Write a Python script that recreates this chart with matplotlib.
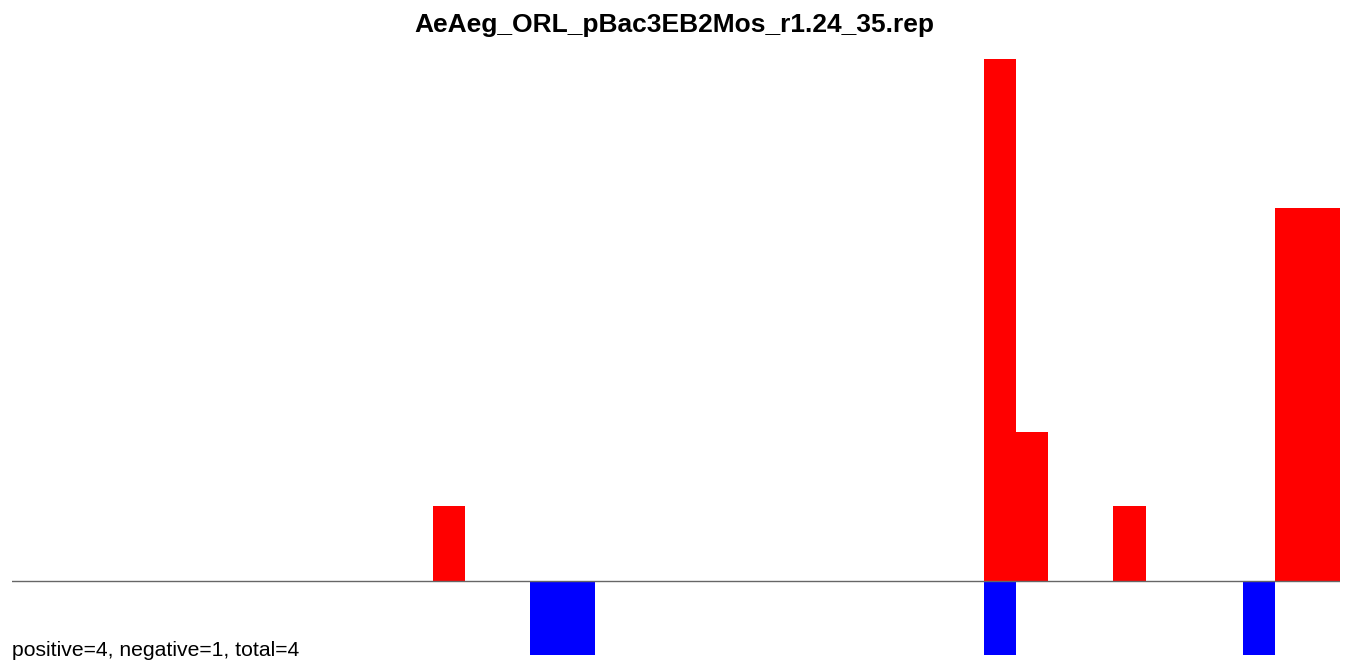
import numpy as np
import matplotlib
matplotlib.use("Agg")
import matplotlib.pyplot as plt

plt.rcParams['font.family'] = ['Liberation Sans', 'DejaVu Sans']

title = "AeAeg_ORL_pBac3EB2Mos_r1.24_35.rep"
footer = "positive=4, negative=1, total=4"
n_bins = 41
# bin index -> count
pos_bins = [13, 30, 31, 34, 39, 40]
pos_vals = [1, 7, 2, 1, 5, 5]
neg_bins = [16, 17, 30, 38]
neg_vals = [-1, -1, -1, -1]

W, H = 1349, 666
fig = plt.figure(figsize=(W / 100, H / 100), dpi=100)
ax = fig.add_axes([12 / W, (H - 655) / H, (1340 - 12) / W, (655 - 59) / H])

ax.bar(pos_bins, pos_vals, width=1.0, align='edge', color='#ff0000', linewidth=0)
ax.bar(neg_bins, neg_vals, width=1.0, align='edge', color='#0000ff', linewidth=0)
ax.axhline(0, color='#666666', linewidth=1.0)

ax.set_xlim(0, n_bins)
ax.set_ylim(-1, 7)
ax.axis('off')

fig.text(0.5, 1 - 25 / H, title, ha='center', va='center', fontsize=19, fontweight='bold')
fig.text(12 / W, 1 - 650 / H, footer, ha='left', va='center', fontsize=15.2)

fig.savefig("out.png", dpi=100)
